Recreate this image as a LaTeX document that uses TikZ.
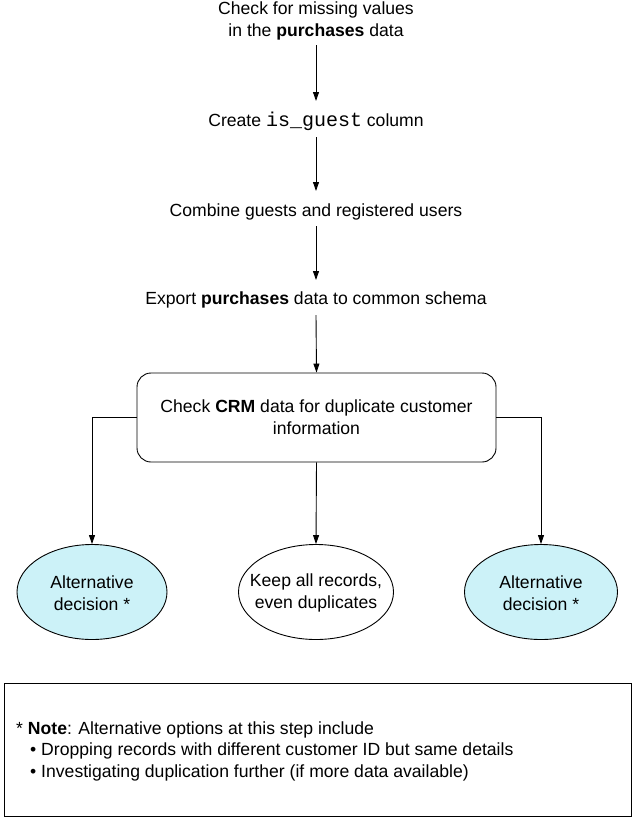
\documentclass[tikz,border=0pt]{standalone}
\usepackage{fontspec}
\setmainfont{Liberation Sans}
\setmonofont{Liberation Mono}
\usetikzlibrary{shapes.geometric,arrows.meta}
\definecolor{altfill}{HTML}{CCF2F8}
\begin{document}
\begin{tikzpicture}[x=1pt,y=-1pt,
  txt/.style={align=center,font=\fontsize{17.6}{22}\selectfont,inner sep=0pt},
  conn/.style={draw=black,line width=0.9pt,-{Triangle[length=9pt,width=6pt]}},
  ell/.style={ellipse,draw=black,line width=0.9pt,minimum height=95pt,inner sep=0pt},
]
\useasboundingbox (0,0) rectangle (632,819);
\node[txt] (s1) at (316,21) {Check for missing values\\in the \textbf{purchases} data};
\node[txt] (s2) at (316,121) {Create {\fontsize{20}{22}\selectfont\texttt{is\_guest}} column};
\node[txt] (s3) at (316,212) {Combine guests and registered users};
\node[txt] (s4) at (316,300) {Export \textbf{purchases} data to common schema};
\node[draw=black,line width=0.9pt,rounded corners=14pt,minimum width=359pt,minimum height=89pt,txt] (crm) at (316.5,417.5) {Check \textbf{CRM} data for duplicate customer\\information};
\node[ell,fill=altfill,minimum width=150pt] (e1) at (92,592) {};
\node[ell,fill=white,minimum width=155pt] (e2) at (316,592) {};
\node[ell,fill=altfill,minimum width=153pt] (e3) at (541,592) {};
\node[txt] (t1) at (92,593) {Alternative\\decision *};
\node[txt] (t2) at (316,593) {Keep all records,\\even duplicates};
\node[txt] (t3) at (541,593) {Alternative\\decision *};
\coordinate (a1s) at (316,45);
\coordinate (a1e) at (316,101);
\draw[conn] (a1s) -- (a1e);
\coordinate (a2s) at (316,137);
\coordinate (a2e) at (316,191);
\draw[conn] (a2s) -- (a2e);
\coordinate (a3s) at (316,226);
\coordinate (a3e) at (316,280);
\draw[conn] (a3s) -- (a3e);
\coordinate (a4s) at (316,315);
\draw[conn] (a4s) -- (crm.north);
\draw[conn] (crm.west) -| (e1.north);
\draw[conn] (crm.east) -| (e3.north);
\draw[conn] (crm.south) -- (e2.north);
\node[draw=black,line width=0.9pt,minimum width=627pt,minimum height=133pt,inner sep=0pt] (note) at (317.5,749.5) {};
\node[anchor=west,inner sep=0pt,align=left,font=\fontsize{17.6}{21.5}\selectfont] (notetxt) at (16,751) {* \textbf{Note}: Alternative options at this step include\\
\hspace*{14pt}• Dropping records with different customer ID but same details\\
\hspace*{14pt}• Investigating duplication further (if more data available)};
\end{tikzpicture}
\end{document}
